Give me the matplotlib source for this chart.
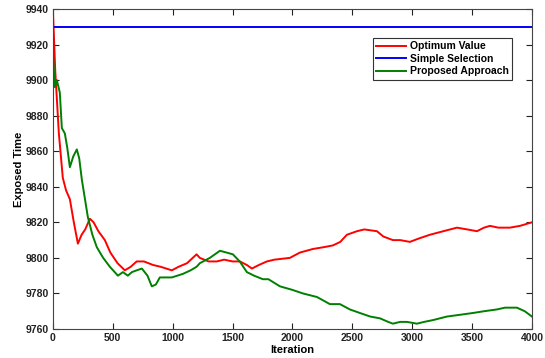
import matplotlib
matplotlib.use("Agg")
import matplotlib.pyplot as plt

# ====== Data ======
red_iter = [0, 20, 50, 83, 110, 142, 175, 209, 240, 270, 309, 340, 380, 434, 480, 540,
            601, 650, 700, 760, 837, 900, 993, 1050, 1120, 1200, 1227, 1300, 1369, 1430,
            1500, 1561, 1620, 1662, 1720, 1787, 1850, 1979, 2063, 2171, 2260, 2338, 2400,
            2455, 2539, 2600, 2706, 2760, 2839, 2900, 2981, 3060, 3148, 3260, 3374, 3460,
            3541, 3600, 3649, 3720, 3816, 3900, 4000]
red_vals = [9940, 9905, 9870, 9845, 9838, 9833, 9820, 9808, 9813, 9816, 9822, 9820, 9815,
            9810, 9803, 9797, 9793, 9795, 9798, 9798, 9796, 9795, 9793, 9795, 9797, 9802,
            9800, 9798, 9798, 9799, 9798, 9798, 9796, 9794, 9796, 9798, 9799, 9800, 9803,
            9805, 9806, 9807, 9809, 9813, 9815, 9816, 9815, 9812, 9810, 9810, 9809, 9811,
            9813, 9815, 9817, 9816, 9815, 9817, 9818, 9817, 9817, 9818, 9820]

green_iter = [0, 17, 33, 58, 75, 100, 120, 142, 170, 200, 220, 242, 292, 330, 367, 420,
              476, 543, 585, 626, 660, 700, 743, 790, 826, 860, 893, 993, 1086, 1150, 1200,
              1227, 1311, 1395, 1450, 1503, 1560, 1620, 1680, 1754, 1800, 1896, 2000, 2088,
              2205, 2313, 2397, 2480, 2564, 2650, 2731, 2800, 2839, 2900, 2956, 3040, 3100,
              3173, 3290, 3400, 3507, 3600, 3708, 3775, 3830, 3875, 3940, 4000]
green_vals = [9915, 9896, 9900, 9893, 9873, 9870, 9862, 9851, 9857, 9861, 9856, 9844, 9823,
              9813, 9806, 9800, 9795, 9790, 9792, 9790, 9792, 9793, 9794, 9790, 9784, 9785,
              9789, 9789, 9791, 9793, 9795, 9797, 9800, 9804, 9803, 9802, 9798, 9792, 9790,
              9788, 9788, 9784, 9782, 9780, 9778, 9774, 9774, 9771, 9769, 9767, 9766, 9764,
              9763, 9764, 9764, 9763, 9764, 9765, 9767, 9768, 9769, 9770, 9771, 9772, 9772,
              9772, 9770, 9767]

blue_iter = [0, 4000]
blue_vals = [9930, 9930]

x_ticks = [0, 500, 1000, 1500, 2000, 2500, 3000, 3500, 4000]
y_ticks = [9760, 9780, 9800, 9820, 9840, 9860, 9880, 9900, 9920, 9940]

# ====== Figure ======
plt.rcParams['font.family'] = ['Liberation Sans', 'DejaVu Sans']
fig = plt.figure(figsize=(5.45, 3.58), dpi=100)
ax = fig.add_axes([0.097, 0.081, 0.879, 0.894])

ax.plot(red_iter, red_vals, color='#ff0000', lw=1.4, label='Optimum Value')
ax.plot(blue_iter, blue_vals, color='#0000ff', lw=1.4, label='Simple Selection')
ax.plot(green_iter, green_vals, color='#008000', lw=1.4, label='Proposed Approach')

ax.set_xlim(0, 4000)
ax.set_ylim(9760, 9940)
ax.set_xticks(x_ticks)
ax.set_yticks(y_ticks)
ax.tick_params(direction='in', top=True, right=True, length=4, width=0.8,
               labelsize=7.5, pad=3, colors='#222222')
for lbl in ax.get_xticklabels() + ax.get_yticklabels():
    lbl.set_fontweight('bold')
for s in ax.spines.values():
    s.set_linewidth(0.8)
    s.set_color('#444444')

ax.set_xlabel('Iteration', fontsize=8, fontweight='bold', labelpad=1)
ax.set_ylabel('Exposed Time', fontsize=8, fontweight='bold', labelpad=1)

leg = ax.legend(loc='upper right', bbox_to_anchor=(0.958, 0.909), borderaxespad=0,
                prop={'weight': 'bold', 'size': 7.5}, fancybox=False, framealpha=1,
                edgecolor='#333333', handlelength=2.8, borderpad=0.3, labelspacing=0.25,
                handletextpad=0.4)
leg.get_frame().set_linewidth(0.8)

fig.savefig('out.png', dpi=100)
